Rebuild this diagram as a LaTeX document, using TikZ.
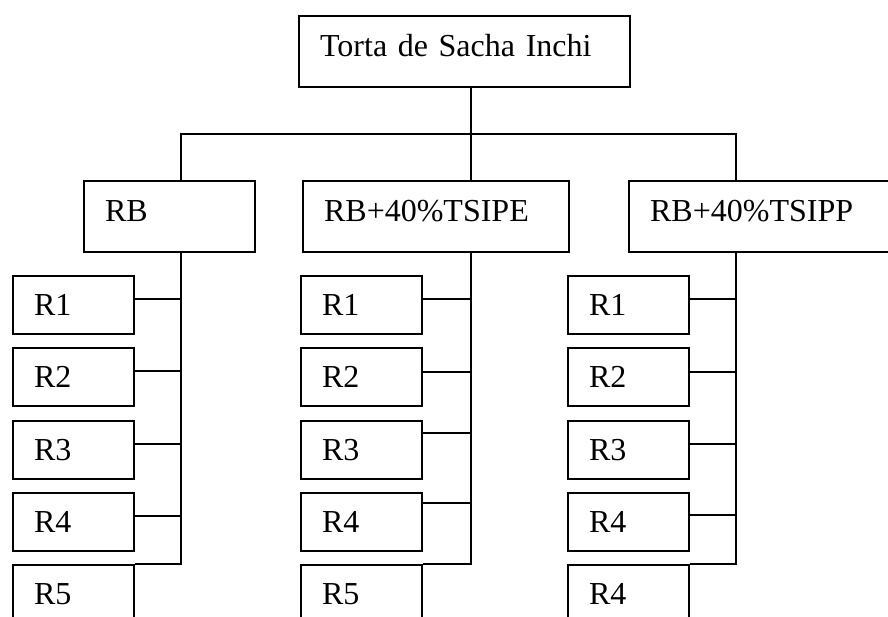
\documentclass[tikz,border=0pt]{standalone}
\usepackage{fontspec}
\setmainfont{Liberation Serif}
\usetikzlibrary{positioning}

\begin{document}
\begin{tikzpicture}[x=1pt, y=-1pt,
  box/.style={draw, line width=2.2pt, anchor=north west, inner xsep=21pt,
              inner ysep=0pt, align=left, font=\fontsize{32}{36}\selectfont},
  big/.style={box, text height=40pt, text depth=31pt},
  small/.style={box, text width=79pt, text height=39pt, text depth=19pt},
  lnk/.style={line width=2.2pt},
]
\useasboundingbox (0,0) rectangle (888,616);
\clip (0,0) rectangle (888,616);

\node[big, text width=289pt] (top) at (298,15) {Torta de Sacha Inchi};

\node[big, text width=129pt] (rb)  at (83,180)  {RB};
\node[big, text width=224pt] (rbe) at (302,180) {RB+40\%TSIPE};
\node[big, text width=230pt] (rbp) at (628,180) {RB+40\%TSIPP};

% repetitions under each treatment
\foreach \c/\x/\last in {1/12/R5, 2/300/R5, 3/567/R4} {
  \foreach \r/\y in {1/275, 2/347, 3/420, 4/492}
    \node[small] (c\c r\r) at (\x,\y) {R\r};
  \node[small] (c\c r5) at (\x,564) {\last};
}

\coordinate (bus1) at (181,134);
\coordinate (bus2) at (471,134);
\coordinate (bus3) at (736,134);

\draw[lnk] (top.south -| bus2) -- (bus2);
\draw[lnk] (rb.north -| bus1) -- (bus1) -- (bus3) -- (rbp.north -| bus3);
\draw[lnk] (bus2) -- (rbe.north -| bus2);

\draw[lnk] (rb.south -| bus1)  |- (c1r5.north east);
\draw[lnk] (rbe.south -| bus2) |- (c2r5.north east);
\draw[lnk] (rbp.south -| bus3) |- (c3r5.north east);

\foreach \r/\d in {1/24, 2/24, 3/24, 4/24}
  \draw[lnk] ([yshift=-\d pt]c1r\r.north east) -| (c1r5.north east -| bus1);
\foreach \r/\d in {1/24, 2/25, 3/13, 4/11}
  \draw[lnk] ([yshift=-\d pt]c2r\r.north east) -| (c2r5.north east -| bus2);
\foreach \r/\d in {1/24, 2/25, 3/24, 4/23}
  \draw[lnk] ([yshift=-\d pt]c3r\r.north east) -| (c3r5.north east -| bus3);
\end{tikzpicture}
\end{document}
